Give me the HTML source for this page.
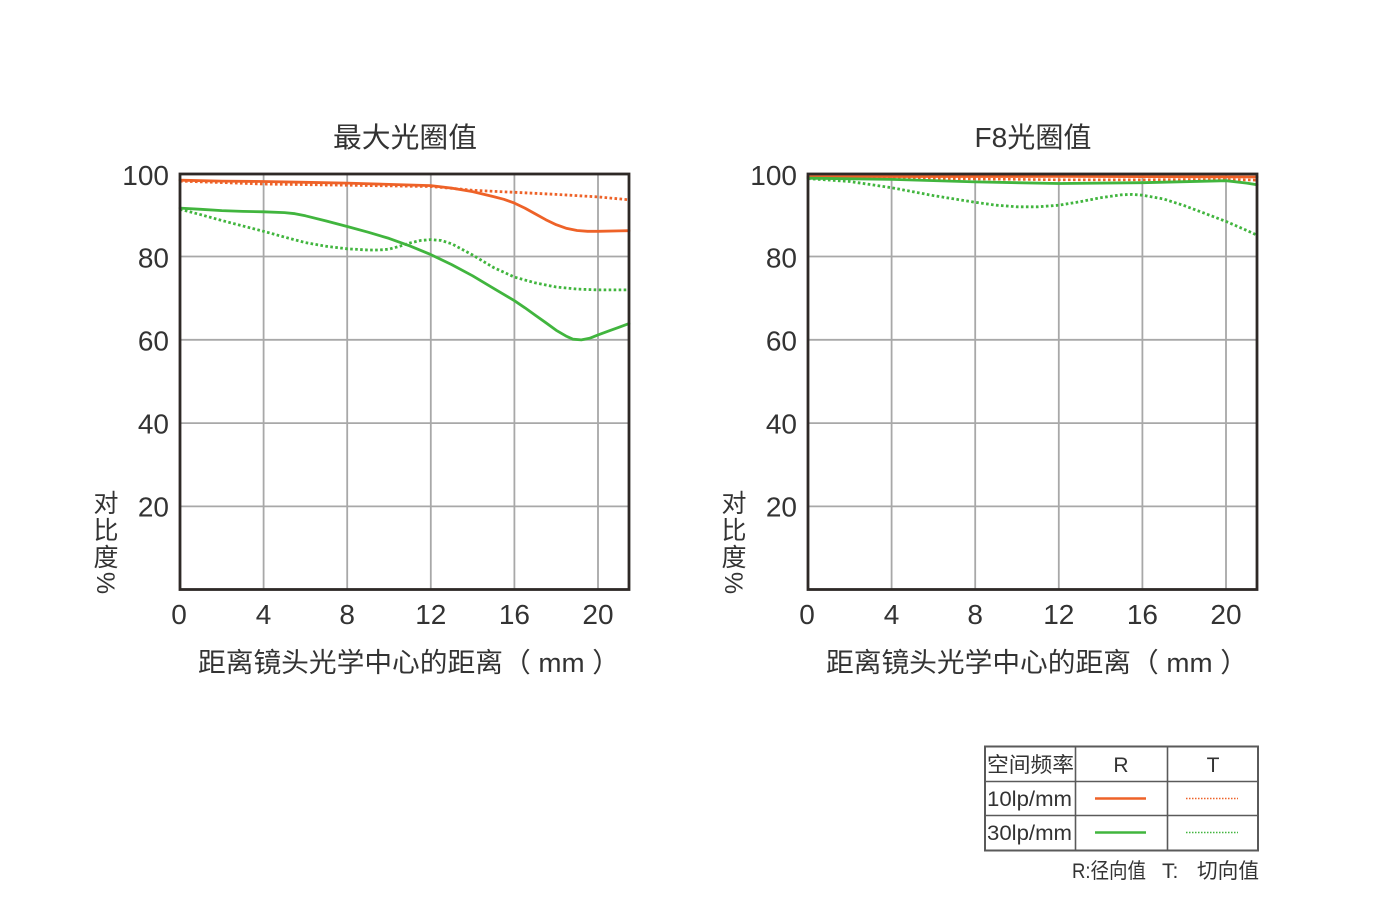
<!DOCTYPE html>
<html>
<head>
<meta charset="utf-8">
<style>
  html,body{margin:0;padding:0;background:#fff;}
  svg{display:block;}
  text{font-family:"Liberation Sans","Noto Sans CJK SC",sans-serif;fill:#333;}
</style>
</head>
<body>
<svg width="1388" height="912" viewBox="0 0 1388 912" xmlns="http://www.w3.org/2000/svg">
  <rect x="0" y="0" width="1388" height="912" fill="#fff"/>

  <defs>
    <g id="grid">
      <g stroke="#a8a8a8" stroke-width="1.8" fill="none">
        <line x1="263.6" y1="174" x2="263.6" y2="589.5"/>
        <line x1="347.2" y1="174" x2="347.2" y2="589.5"/>
        <line x1="430.8" y1="174" x2="430.8" y2="589.5"/>
        <line x1="514.4" y1="174" x2="514.4" y2="589.5"/>
        <line x1="598" y1="174" x2="598" y2="589.5"/>
        <line x1="180" y1="256.5" x2="629" y2="256.5"/>
        <line x1="180" y1="339.8" x2="629" y2="339.8"/>
        <line x1="180" y1="423.1" x2="629" y2="423.1"/>
        <line x1="180" y1="506.4" x2="629" y2="506.4"/>
      </g>
    </g>
    <g id="axes">
      <rect x="180" y="174" width="449" height="415.5" fill="none" stroke="#2e2926" stroke-width="2.8"/>
      <g font-size="28" text-anchor="end">
        <text x="169" y="185">100</text>
        <text x="169" y="267.5">80</text>
        <text x="169" y="350.5">60</text>
        <text x="169" y="433.5">40</text>
        <text x="169" y="516.5">20</text>
      </g>
      <g font-size="28" text-anchor="middle">
        <text x="179" y="624">0</text>
        <text x="263.6" y="624">4</text>
        <text x="347.2" y="624">8</text>
        <text x="430.8" y="624">12</text>
        <text x="514.4" y="624">16</text>
        <text x="598" y="624">20</text>
      </g>
      <text x="198" y="672" font-size="27" textLength="422" lengthAdjust="spacingAndGlyphs">距离镜头光学中心的距离（ mm ）</text>
      <g font-size="25" text-anchor="middle">
        <text x="106" y="512">对</text>
        <text x="106" y="539">比</text>
        <text x="106" y="566">度</text>
        <text x="0" y="0" transform="translate(97,583) rotate(90)">%</text>
      </g>
    </g>
  </defs>

  <!-- LEFT CHART -->
  <text x="405" y="147" font-size="28" text-anchor="middle" textLength="144" lengthAdjust="spacingAndGlyphs">最大光圈值</text>
  <use href="#grid"/>
  <g fill="none" stroke-linejoin="round" stroke-linecap="round">
    <polyline stroke="#ee6228" stroke-width="2.8" points="180,180.2 221.8,181.1 263.6,181.5 305.4,182.3 347.2,183.1 389,184.4 430.8,185.6 451.7,188.1 472.6,191.6 493.5,196.6 503.9,199.3 514.4,203.1 524.9,208.1 535.3,213.9 545.8,219.7 556.2,224.7 566.7,228.4 577.1,230.5 587.6,231.3 598,231.3 618.9,230.9 629,230.7"/>
    <polyline stroke="#ee6228" stroke-width="2.8" stroke-dasharray="2.6 2.4" stroke-linecap="butt" points="180,181.1 263.6,184.0 347.2,185.2 430.8,186.5 451.7,188.3 472.6,190.3 514.4,192.3 556.2,194.4 598,196.9 629,199.8"/>
    <polyline stroke="#41b53e" stroke-width="2.8" points="180,208.1 200.9,209.3 221.8,210.6 242.7,211.4 263.6,211.8 284.5,212.6 295,213.7 305.4,215.8 326.3,221.0 347.2,226.5 368.1,232.2 389,238.4 409.9,245.9 430.8,254.6 451.7,264.6 472.6,275.8 493.5,288.3 514.4,300.7 524.9,307.8 535.3,315.3 545.8,322.7 556.2,330.3 566.7,336.4 572.9,339.2 581.3,339.9 589.6,338.3 598,334.9 608.5,331.1 618.9,327.3 629,323.6"/>
    <polyline stroke="#41b53e" stroke-width="2.8" stroke-dasharray="2.6 2.4" stroke-linecap="butt" points="180,209.3 200.9,214.7 221.8,220.5 242.7,225.9 263.6,231.3 284.5,237.1 305.4,242.6 326.3,246.3 347.2,248.8 368.1,250.0 378.6,250.0 389,249.2 399.5,246.3 409.9,243.0 420.4,240.5 430.8,239.6 441.3,240.5 451.7,243.8 472.6,255.0 493.5,267.5 514.4,277.1 535.3,282.9 556.2,287.0 577.1,289.1 598,289.9 629,289.9"/>
  </g>
  <use href="#axes"/>

  <!-- RIGHT CHART -->
  <text x="1033" y="147" font-size="28" text-anchor="middle" textLength="117" lengthAdjust="spacingAndGlyphs">F8光圈值</text>
  <g transform="translate(628,0)">
    <use href="#grid"/>
    <g fill="none" stroke-linejoin="round" stroke-linecap="round">
      <polyline stroke="#ee6228" stroke-width="2.8" points="180,176.6 430.8,176.4 629,177"/>
      <polyline stroke="#ee6228" stroke-width="2.6" stroke-dasharray="2.6 2.4" stroke-linecap="butt" points="180,177.3 263.6,178.1 347.2,179 430.8,179.8 514.4,179.8 598,179.4 629,180.2"/>
      <polyline stroke="#41b53e" stroke-width="2.8" points="180,178.2 263.6,179.4 347.2,181.9 430.8,183.5 514.4,182.7 598,180.7 618.9,183.1 629,184.8"/>
      <polyline stroke="#41b53e" stroke-width="2.8" stroke-dasharray="2.6 2.4" stroke-linecap="butt" points="180,178.6 221.8,181.5 263.6,187.7 305.4,195.6 347.2,202.3 368.1,205.2 389,206.8 409.9,206.8 430.8,205.2 451.7,201.8 472.6,197.7 493.5,194.8 503.9,194.4 514.4,195.2 535.3,198.9 556.2,205.6 577.1,213.5 598,221.4 618.9,230.5 629,235.1"/>
    </g>
    <use href="#axes"/>
  </g>

  <!-- LEGEND TABLE -->
  <g fill="none" stroke="#5a5a5a">
    <rect x="985" y="746.5" width="273" height="104" stroke-width="2"/>
    <line x1="1075.5" y1="746.5" x2="1075.5" y2="850.5" stroke-width="1.6"/>
    <line x1="1167.5" y1="746.5" x2="1167.5" y2="850.5" stroke-width="1.6"/>
    <line x1="985" y1="781.5" x2="1258" y2="781.5" stroke-width="1.6"/>
    <line x1="985" y1="815.5" x2="1258" y2="815.5" stroke-width="1.6"/>
  </g>
  <g font-size="21">
    <text x="987" y="772" textLength="87" lengthAdjust="spacingAndGlyphs">空间频率</text>
    <text x="1121" y="772" text-anchor="middle">R</text>
    <text x="1213" y="772" text-anchor="middle">T</text>
    <text x="987" y="806" textLength="85" lengthAdjust="spacingAndGlyphs">10lp/mm</text>
    <text x="987" y="840" textLength="85" lengthAdjust="spacingAndGlyphs">30lp/mm</text>
  </g>
  <line x1="1095" y1="798.5" x2="1146" y2="798.5" stroke="#ee6228" stroke-width="2.6"/>
  <line x1="1186" y1="798.5" x2="1238" y2="798.5" stroke="#ee6228" stroke-width="1.6" stroke-dasharray="1.5 1.5"/>
  <line x1="1095" y1="832.5" x2="1146" y2="832.5" stroke="#41b53e" stroke-width="2.6"/>
  <line x1="1186" y1="832.5" x2="1238" y2="832.5" stroke="#41b53e" stroke-width="1.6" stroke-dasharray="1.5 1.5"/>
  <text x="1072" y="878" font-size="21" textLength="74" lengthAdjust="spacingAndGlyphs">R:径向值</text>
  <text x="1162" y="878" font-size="21">T:</text>
  <text x="1197" y="878" font-size="21" textLength="62" lengthAdjust="spacingAndGlyphs">切向值</text>
</svg>
</body>
</html>
